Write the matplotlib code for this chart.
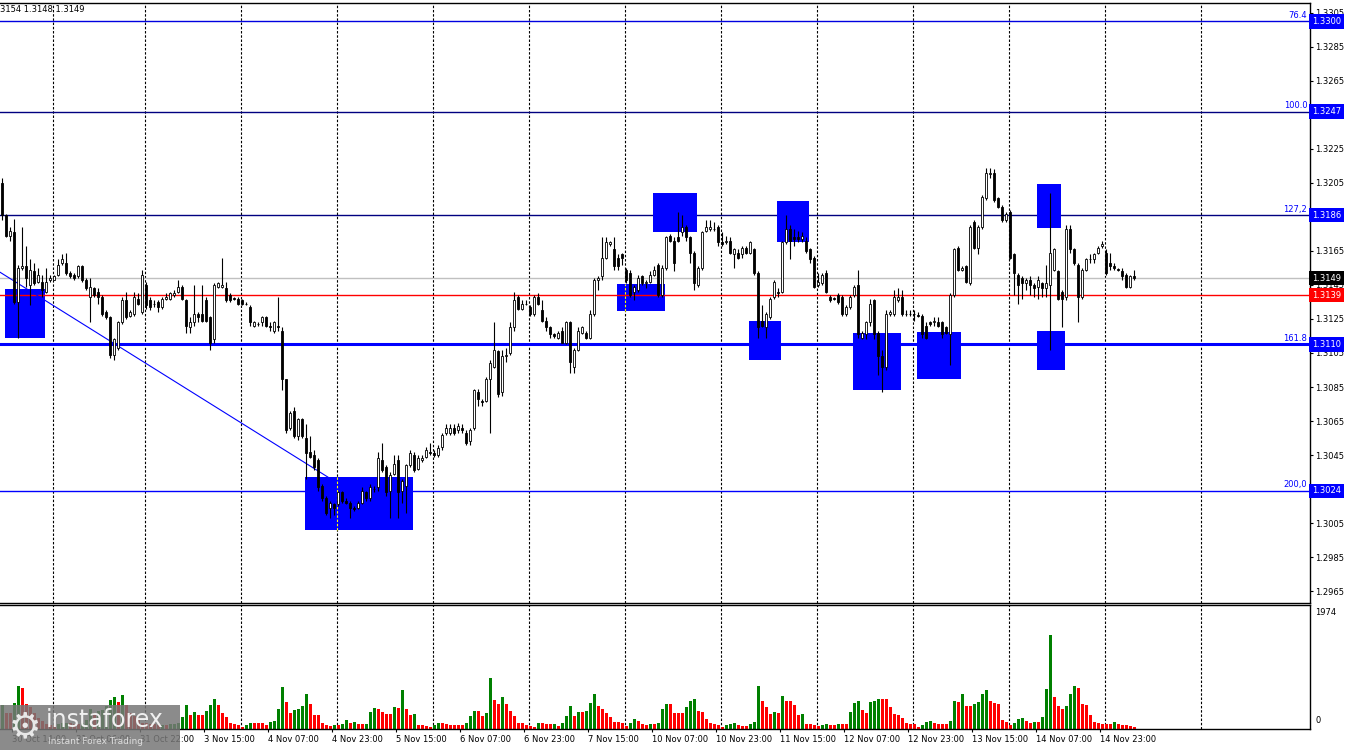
import numpy as np
import matplotlib
matplotlib.use("Agg")
import matplotlib.pyplot as plt
from matplotlib.patches import Rectangle
import matplotlib.transforms as mtransforms

plt.rcParams['font.family'] = ['DejaVu Sans']

# ---------------- data (GBPUSD H1) ----------------
opens = [
 1.3205,1.3186,1.3174,1.3176,1.3135,1.3155,1.3156,1.3145,1.3153,1.3147,
 1.3147,1.3141,1.3148,1.3148,1.3151,1.3158,1.3158,1.3152,1.3151,1.3150,
 1.3156,1.3148,1.3138,1.3143,1.3141,1.3138,1.3129,1.3126,1.3104,1.3108,
 1.3123,1.3136,1.3127,1.3128,1.3137,1.3129,1.3145,1.3136,1.3134,1.3135,
 1.3132,1.3137,1.3137,1.3139,1.3141,1.3144,1.3136,1.3120,1.3123,1.3128,
 1.3128,1.3136,1.3126,1.3113,1.3144,1.3144,1.3143,1.3139,1.3137,1.3137,
 1.3136,1.3134,1.3132,1.3121,1.3122,1.3123,1.3126,1.3121,1.3118,1.3121,
 1.3118,1.3090,1.3061,1.3071,1.3056,1.3066,1.3055,1.3047,1.3045,1.3042,
 1.3027,1.3020,1.3014,1.3016,1.3016,1.3023,1.3018,1.3017,1.3014,1.3014,
 1.3017,1.3023,1.3020,1.3025,1.3026,1.3042,1.3038,1.3024,1.3034,1.3042,
 1.3024,1.3027,1.3039,1.3045,1.3037,1.3042,1.3044,1.3047,1.3046,1.3045,
 1.3050,1.3058,1.3058,1.3061,1.3060,1.3061,1.3058,1.3053,1.3061,1.3082,
 1.3077,1.3077,1.3090,1.3097,1.3106,1.3082,1.3103,1.3105,1.3120,1.3138,
 1.3131,1.3134,1.3132,1.3128,1.3138,1.3130,1.3124,1.3120,1.3116,1.3114,
 1.3118,1.3111,1.3123,1.3097,1.3107,1.3117,1.3117,1.3114,1.3128,1.3148,
 1.3150,1.3161,1.3169,1.3166,1.3161,1.3163,1.3154,1.3152,1.3141,1.3142,
 1.3150,1.3146,1.3147,1.3151,1.3157,1.3139,1.3155,1.3174,1.3171,1.3173,
 1.3176,1.3179,1.3173,1.3164,1.3145,1.3155,1.3177,1.3178,1.3178,1.3179,
 1.3170,1.3170,1.3171,1.3163,1.3164,1.3163,1.3167,1.3164,1.3166,1.3152,
 1.3124,1.3120,1.3126,1.3138,1.3141,1.3141,1.3170,1.3178,1.3173,1.3173,
 1.3172,1.3171,1.3166,1.3161,1.3145,1.3146,1.3152,1.3138,1.3137,1.3139,
 1.3138,1.3128,1.3132,1.3139,1.3145,1.3114,1.3116,1.3123,1.3136,1.3117,
 1.3103,1.3097,1.3128,1.3128,1.3136,1.3138,1.3128,1.3128,1.3128,1.3127,
 1.3127,1.3121,1.3123,1.3123,1.3123,1.3123,1.3120,1.3116,1.3139,1.3167,
 1.3154,1.3156,1.3146,1.3182,1.3167,1.3179,1.3196,1.3210,1.3211,1.3196,
 1.3191,1.3183,1.3188,1.3163,1.3151,1.3149,1.3146,1.3148,1.3145,1.3144,
 1.3146,1.3143,1.3145,1.3154,1.3153,1.3141,1.3138,1.3178,1.3166,1.3157,
 1.3138,1.3154,1.3160,1.3160,1.3164,1.3168,1.3164,1.3158,1.3156,1.3154,
 1.3153,1.3151,1.3144,1.3150]

highs = [
 1.3208,1.3187,1.3179,1.3184,1.3157,1.3179,1.3168,1.3160,1.3158,1.3155,
 1.3151,1.3155,1.3151,1.3151,1.3160,1.3163,1.3164,1.3153,1.3152,1.3157,
 1.3157,1.3149,1.3149,1.3144,1.3143,1.3139,1.3130,1.3127,1.3114,1.3124,
 1.3138,1.3141,1.3130,1.3141,1.3140,1.3154,1.3147,1.3138,1.3136,1.3136,
 1.3138,1.3140,1.3141,1.3142,1.3148,1.3145,1.3137,1.3126,1.3145,1.3129,
 1.3145,1.3138,1.3127,1.3146,1.3147,1.3161,1.3147,1.3140,1.3138,1.3138,
 1.3137,1.3135,1.3133,1.3124,1.3123,1.3127,1.3127,1.3123,1.3124,1.3138,
 1.3120,1.3090,1.3071,1.3073,1.3067,1.3067,1.3063,1.3056,1.3048,1.3043,
 1.3028,1.3021,1.3018,1.3017,1.3024,1.3024,1.3020,1.3018,1.3015,1.3018,
 1.3026,1.3024,1.3028,1.3027,1.3047,1.3052,1.3039,1.3035,1.3045,1.3045,
 1.3031,1.3040,1.3048,1.3047,1.3045,1.3045,1.3050,1.3052,1.3048,1.3051,
 1.3058,1.3063,1.3063,1.3063,1.3064,1.3063,1.3060,1.3061,1.3084,1.3084,
 1.3078,1.3091,1.3101,1.3123,1.3107,1.3107,1.3108,1.3123,1.3141,1.3139,
 1.3136,1.3136,1.3133,1.3139,1.3140,1.3136,1.3126,1.3121,1.3117,1.3118,
 1.3120,1.3124,1.3124,1.3108,1.3120,1.3121,1.3118,1.3130,1.3149,1.3150,
 1.3173,1.3173,1.3171,1.3173,1.3163,1.3164,1.3155,1.3154,1.3145,1.3151,
 1.3151,1.3148,1.3153,1.3156,1.3158,1.3157,1.3174,1.3175,1.3173,1.3188,
 1.3186,1.3180,1.3174,1.3165,1.3156,1.3177,1.3183,1.3183,1.3182,1.3180,
 1.3176,1.3174,1.3173,1.3167,1.3166,1.3168,1.3168,1.3171,1.3167,1.3153,
 1.3133,1.3129,1.3138,1.3148,1.3143,1.3171,1.3186,1.3180,1.3178,1.3177,
 1.3176,1.3173,1.3167,1.3162,1.3152,1.3152,1.3154,1.3139,1.3138,1.3140,
 1.3139,1.3133,1.3139,1.3145,1.3154,1.3118,1.3124,1.3137,1.3137,1.3118,
 1.3107,1.3130,1.3130,1.3142,1.3143,1.3142,1.3130,1.3130,1.3130,1.3129,
 1.3128,1.3123,1.3124,1.3126,1.3126,1.3124,1.3121,1.3140,1.3167,1.3168,
 1.3156,1.3157,1.3180,1.3183,1.3180,1.3198,1.3214,1.3214,1.3213,1.3197,
 1.3192,1.3188,1.3189,1.3164,1.3152,1.3150,1.3149,1.3150,1.3146,1.3150,
 1.3147,1.3157,1.3199,1.3167,1.3154,1.3142,1.3180,1.3180,1.3167,1.3158,
 1.3155,1.3161,1.3163,1.3164,1.3168,1.3171,1.3166,1.3164,1.3158,1.3155,
 1.3155,1.3152,1.3151,1.3154]

lows = [
 1.3183,1.3173,1.3171,1.3134,1.3114,1.3154,1.3144,1.3133,1.3145,1.3146,
 1.3138,1.3140,1.3147,1.3148,1.3150,1.3157,1.3151,1.3149,1.3148,1.3149,
 1.3147,1.3142,1.3123,1.3138,1.3134,1.3127,1.3125,1.3102,1.3101,1.3107,
 1.3122,1.3125,1.3126,1.3127,1.3133,1.3128,1.3131,1.3130,1.3132,1.3129,
 1.3131,1.3136,1.3136,1.3138,1.3140,1.3136,1.3117,1.3117,1.3121,1.3123,
 1.3123,1.3123,1.3107,1.3111,1.3143,1.3143,1.3135,1.3135,1.3136,1.3133,
 1.3133,1.3133,1.3121,1.3120,1.3121,1.3121,1.3120,1.3118,1.3117,1.3118,
 1.3083,1.3058,1.3060,1.3055,1.3054,1.3055,1.3031,1.3043,1.3036,1.3024,
 1.3018,1.3010,1.3008,1.3010,1.3015,1.3017,1.3016,1.3008,1.3012,1.3013,
 1.3016,1.3018,1.3018,1.3023,1.3024,1.3035,1.3021,1.3008,1.3033,1.3008,
 1.3017,1.3011,1.3038,1.3035,1.3036,1.3041,1.3043,1.3045,1.3044,1.3044,
 1.3048,1.3057,1.3057,1.3057,1.3058,1.3058,1.3051,1.3051,1.3060,1.3074,
 1.3074,1.3076,1.3058,1.3096,1.3079,1.3080,1.3100,1.3104,1.3118,1.3130,
 1.3130,1.3133,1.3127,1.3127,1.3133,1.3123,1.3118,1.3114,1.3114,1.3113,
 1.3111,1.3110,1.3093,1.3093,1.3106,1.3116,1.3113,1.3113,1.3127,1.3142,
 1.3148,1.3160,1.3168,1.3154,1.3154,1.3157,1.3146,1.3138,1.3136,1.3141,
 1.3145,1.3143,1.3146,1.3150,1.3138,1.3138,1.3154,1.3170,1.3153,1.3170,
 1.3174,1.3171,1.3158,1.3142,1.3144,1.3154,1.3176,1.3177,1.3177,1.3168,
 1.3168,1.3169,1.3163,1.3155,1.3160,1.3161,1.3163,1.3163,1.3151,1.3114,
 1.3120,1.3114,1.3125,1.3137,1.3138,1.3140,1.3169,1.3160,1.3168,1.3170,
 1.3170,1.3164,1.3158,1.3143,1.3144,1.3145,1.3140,1.3135,1.3136,1.3134,
 1.3127,1.3127,1.3131,1.3138,1.3114,1.3113,1.3113,1.3121,1.3113,1.3092,
 1.3082,1.3095,1.3127,1.3127,1.3135,1.3127,1.3127,1.3127,1.3124,1.3126,
 1.3114,1.3113,1.3121,1.3121,1.3120,1.3114,1.3116,1.3098,1.3138,1.3153,
 1.3153,1.3146,1.3145,1.3166,1.3163,1.3178,1.3195,1.3208,1.3194,1.3190,
 1.3182,1.3182,1.3160,1.3139,1.3134,1.3137,1.3142,1.3139,1.3138,1.3137,
 1.3138,1.3138,1.3107,1.3153,1.3136,1.3120,1.3136,1.3164,1.3157,1.3123,
 1.3137,1.3153,1.3158,1.3158,1.3163,1.3167,1.3151,1.3154,1.3154,1.3153,
 1.3148,1.3143,1.3143,1.3148]

closes = [
 1.3186,1.3174,1.3177,1.3135,1.3155,1.3156,1.3149,1.3154,1.3146,1.3151,
 1.3142,1.3147,1.3149,1.3150,1.3157,1.3160,1.3152,1.3150,1.3149,1.3156,
 1.3148,1.3143,1.3144,1.3139,1.3138,1.3128,1.3126,1.3104,1.3113,1.3123,
 1.3136,1.3126,1.3129,1.3138,1.3134,1.3151,1.3133,1.3132,1.3134,1.3132,
 1.3137,1.3138,1.3140,1.3140,1.3144,1.3137,1.3121,1.3123,1.3128,1.3126,
 1.3124,1.3124,1.3111,1.3145,1.3146,1.3145,1.3136,1.3136,1.3137,1.3134,
 1.3134,1.3134,1.3123,1.3123,1.3122,1.3126,1.3121,1.3120,1.3123,1.3120,
 1.3090,1.3060,1.3070,1.3056,1.3066,1.3056,1.3046,1.3044,1.3038,1.3026,
 1.3020,1.3011,1.3017,1.3014,1.3023,1.3018,1.3017,1.3014,1.3013,1.3017,
 1.3024,1.3020,1.3026,1.3025,1.3043,1.3036,1.3023,1.3033,1.3040,1.3023,
 1.3030,1.3039,1.3046,1.3036,1.3043,1.3043,1.3048,1.3046,1.3045,1.3049,
 1.3057,1.3061,1.3061,1.3058,1.3062,1.3060,1.3052,1.3060,1.3083,1.3078,
 1.3076,1.3090,1.3099,1.3107,1.3081,1.3103,1.3104,1.3120,1.3136,1.3131,
 1.3134,1.3134,1.3128,1.3138,1.3134,1.3124,1.3120,1.3116,1.3115,1.3117,
 1.3111,1.3123,1.3100,1.3107,1.3118,1.3120,1.3114,1.3128,1.3148,1.3149,
 1.3161,1.3170,1.3170,1.3156,1.3156,1.3161,1.3148,1.3139,1.3144,1.3149,
 1.3146,1.3147,1.3151,1.3154,1.3139,1.3155,1.3173,1.3171,1.3158,1.3171,
 1.3179,1.3173,1.3164,1.3146,1.3155,1.3176,1.3179,1.3179,1.3178,1.3170,
 1.3169,1.3171,1.3164,1.3166,1.3161,1.3167,1.3164,1.3170,1.3152,1.3120,
 1.3121,1.3128,1.3137,1.3147,1.3140,1.3170,1.3178,1.3171,1.3172,1.3172,
 1.3174,1.3165,1.3160,1.3144,1.3147,1.3151,1.3141,1.3136,1.3137,1.3135,
 1.3128,1.3132,1.3138,1.3144,1.3116,1.3117,1.3123,1.3134,1.3116,1.3103,
 1.3097,1.3128,1.3129,1.3138,1.3138,1.3128,1.3128,1.3128,1.3128,1.3127,
 1.3116,1.3114,1.3122,1.3124,1.3121,1.3116,1.3117,1.3139,1.3166,1.3154,
 1.3155,1.3147,1.3179,1.3167,1.3179,1.3197,1.3211,1.3211,1.3195,1.3191,
 1.3183,1.3187,1.3161,1.3152,1.3145,1.3146,1.3148,1.3145,1.3143,1.3148,
 1.3143,1.3146,1.3164,1.3166,1.3137,1.3137,1.3178,1.3166,1.3158,1.3138,
 1.3154,1.3160,1.3160,1.3163,1.3167,1.3169,1.3152,1.3156,1.3155,1.3154,
 1.3150,1.3144,1.3150,1.3149]

volumes = [
 382,254,250,413,684,652,397,350,254,175,
 127,80,70,64,80,90,101,90,80,74,
 101,150,318,254,280,300,366,461,509,429,
 541,382,254,207,150,101,90,80,74,64,
 70,64,74,80,101,191,382,223,270,223,
 223,286,382,477,382,260,191,90,74,64,
 37,64,101,95,95,95,64,117,127,323,
 668,435,260,302,323,366,551,403,223,223,
 90,64,48,64,64,74,143,101,117,74,
 74,85,270,339,313,270,244,244,350,339,
 620,323,223,233,64,64,48,32,64,90,
 90,85,64,64,64,64,101,207,286,286,
 207,249,816,461,392,509,392,286,207,101,
 101,64,48,37,101,90,85,74,85,48,
 101,207,366,207,270,270,286,413,557,366,
 318,254,191,111,111,95,42,95,159,127,
 80,64,80,80,95,318,398,398,254,254,
 254,350,445,477,286,270,159,95,80,64,
 32,64,80,95,64,48,48,80,111,684,
 445,350,239,270,254,525,445,445,382,223,
 239,80,80,64,48,64,80,64,64,80,
 80,80,270,413,445,302,254,429,445,477,
 477,477,350,239,223,170,101,74,74,32,
 64,111,127,95,80,80,80,127,445,429,
 557,366,366,398,429,557,620,445,413,398,
 143,111,64,95,159,175,127,95,111,111,
 191,636,1495,509,366,318,366,557,684,652,
 398,382,223,111,95,80,80,80,111,80,
 64,64,48,32]

time_labels = ["30 Oct 14:00", "31 Oct 06:00", "31 Oct 22:00", "3 Nov 15:00",
               "4 Nov 07:00", "4 Nov 23:00", "5 Nov 15:00", "6 Nov 07:00",
               "6 Nov 23:00", "7 Nov 15:00", "10 Nov 07:00", "10 Nov 23:00",
               "11 Nov 15:00", "12 Nov 07:00", "12 Nov 23:00", "13 Nov 15:00",
               "14 Nov 07:00", "14 Nov 23:00"]
label_bars = [2.5 + 16 * k for k in range(len(time_labels))]

price_ticks = [1.2965, 1.2985, 1.3005, 1.3025, 1.3045, 1.3065, 1.3085, 1.3105,
               1.3125, 1.3145, 1.3165, 1.3185, 1.3205, 1.3225, 1.3245, 1.3265,
               1.3285, 1.3305]

fibo_levels = [1.3300, 1.3247, 1.3186, 1.3110, 1.3024]
fibo_names = ["76.4", "100.0", "127,2", "161.8", "200,0"]
fibo_colors = ["#0000E0", "#000080", "#000080", "#0000FF", "#0000FF"]
fibo_widths = [1.0, 1.0, 1.0, 2.2, 1.0]
level_red = 1.3139
bid_price = 1.3149

zone_start = [0.75, 75.75, 153.75, 162.75, 186.75, 193.75, 212.75, 228.75, 258.75, 258.75]
zone_end = [10.75, 102.75, 165.75, 173.75, 194.75, 201.75, 224.75, 239.75, 264.75, 265.75]
zone_top = [1.31425, 1.30319, 1.31454, 1.31989, 1.31237, 1.31942, 1.31166, 1.31172, 1.32042, 1.31178]
zone_bottom = [1.31137, 1.30008, 1.31295, 1.31760, 1.31007, 1.31701, 1.30831, 1.30896, 1.31783, 1.30949]

trend_bars = [-0.5, 81.5]
trend_prices = [1.31525, 1.30320]

grid_bars = [12.75, 35.75, 59.75, 83.75, 107.75, 131.75, 155.75, 179.75,
             203.75, 227.75, 251.75, 275.75, 299.75]

header_text = "3154 1.3148 1.3149"
vol_max = 1974

# ---------------- figure ----------------
W, H = 1350, 750
fig = plt.figure(figsize=(13.5, 7.5), dpi=100)
fig.patch.set_facecolor("white")


def fx(px):
    return px / W


def fy(py):
    return 1 - py / H


ax = fig.add_axes([0, fy(603), fx(1310), (603 - 3) / H])
axv = fig.add_axes([0, fy(729), fx(1310), (729 - 605) / H])

o = np.array(opens)
h = np.array(highs)
l = np.array(lows)
c = np.array(closes)
h = np.maximum(h, np.maximum(o, c))
l = np.minimum(l, np.minimum(o, c))
n = len(c)
idx = np.arange(n)

DASH = (0, (2.2, 1.6))
XMIN, XMAX = -0.5, 327.0
for a in (ax, axv):
    a.set_xlim(XMIN, XMAX)
    a.set_facecolor("white")
    a.spines["left"].set_visible(False)
    for s in ("top", "bottom", "right"):
        a.spines[s].set_color("black")
        a.spines[s].set_linewidth(1.0)
    for gb in grid_bars:
        a.axvline(gb, color="black", lw=0.8, ls=DASH, zorder=0.5)

ax.set_ylim(1.29580, 1.33108)

# horizontal levels
for lev, col, lw in zip(fibo_levels, fibo_colors, fibo_widths):
    ax.axhline(lev, color=col, lw=lw, zorder=0.8)
ax.axhline(bid_price, color="#C0C0C0", lw=1.0, zorder=0.8)

# zones (grid dashes show through in yellow, as in the terminal)
for x0, x1, top, bot in zip(zone_start, zone_end, zone_top, zone_bottom):
    ax.add_patch(Rectangle((x0, bot), x1 - x0, top - bot, facecolor="#0000FF",
                           edgecolor="none", zorder=1))
    for gb in grid_bars:
        if x0 < gb < x1:
            ax.vlines(gb, bot, top, color="#FFFF00", lw=0.8, ls=DASH, zorder=1.1)

ax.axhline(level_red, color="#FF0000", lw=1.0, zorder=1.5)

# trend line
ax.plot(trend_bars, trend_prices, color="#0000FF", lw=0.8, zorder=1.6)

# candles
ax.vlines(idx, l, h, color="black", lw=0.8, zorder=3)
body_bot = np.minimum(o, c)
body_h = np.maximum(np.abs(c - o), 0.00001)
body_col = np.where(c > o, "white", "black")
ax.bar(idx, body_h, bottom=body_bot, width=0.72, color=body_col,
       edgecolor="black", linewidth=0.6, zorder=4)

# price axis
ax.yaxis.tick_right()
ax.set_yticks(price_ticks)
ax.set_yticklabels([f"{t:.4f}" for t in price_ticks])
ax.tick_params(axis="y", length=2.2, width=0.8, pad=1.2, labelsize=6, colors="black")
ax.tick_params(axis="x", bottom=False, labelbottom=False)

trans = mtransforms.blended_transform_factory(ax.transAxes, ax.transData)


def price_box(level, fc):
    ax.annotate(f"{level:.4f}", xy=(1.0, level), xycoords=trans, xytext=(1.5, 0),
                textcoords="offset points", ha="left", va="center", fontsize=6,
                color="white", annotation_clip=False, zorder=20,
                bbox=dict(boxstyle="square,pad=0.32", fc=fc, ec="none"))


for lev in fibo_levels:
    price_box(lev, "#0000FF")
price_box(bid_price, "black")
price_box(level_red, "#FF0000")

for lev, name in zip(fibo_levels, fibo_names):
    ax.annotate(name, xy=(1.0, lev), xycoords=trans, xytext=(-2, 1),
                textcoords="offset points", ha="right", va="bottom", fontsize=6,
                color="#0000FF", zorder=6)

# volume panel
vcol = ["#008000"] + ["#008000" if volumes[i] > volumes[i - 1] else "#FF0000"
                      for i in range(1, len(volumes))]
axv.bar(np.arange(len(volumes)), volumes, width=0.75, color=vcol, zorder=2)
axv.set_ylim(0, vol_max)
axv.set_yticks([])
transv = mtransforms.blended_transform_factory(axv.transAxes, axv.transData)
axv.annotate(str(vol_max), xy=(1.0, vol_max), xycoords=transv, xytext=(4, -2),
             textcoords="offset points", ha="left", va="top", fontsize=6,
             annotation_clip=False)
axv.annotate("0", xy=(1.0, 0), xycoords=transv, xytext=(4, 3),
             textcoords="offset points", ha="left", va="bottom", fontsize=6,
             annotation_clip=False)
axv.set_xticks(label_bars)
axv.set_xticklabels(time_labels, ha="left", fontsize=6)
axv.tick_params(axis="x", length=2.5, width=0.8, pad=2, colors="black")

# header
fig.text(fx(0), fy(10), header_text, fontsize=6, ha="left", va="center")

# watermark
fig.add_artist(Rectangle((0, fy(750)), fx(180), (750 - 705) / H,
                         transform=fig.transFigure, facecolor="#777777",
                         alpha=0.85, edgecolor="none", zorder=30))
fig.text(fx(25), fy(727), "\u2699", fontsize=26, color="#e8e8e8",
         ha="center", va="center", zorder=31)
fig.text(fx(46), fy(720), "instaforex", fontsize=17, color="#f0f0f0",
         ha="left", va="center", zorder=31)
fig.text(fx(48), fy(741), "Instant Forex Trading", fontsize=6.5, color="#dddddd",
         ha="left", va="center", zorder=31)

fig.savefig("out.png", dpi=100, facecolor="white")
